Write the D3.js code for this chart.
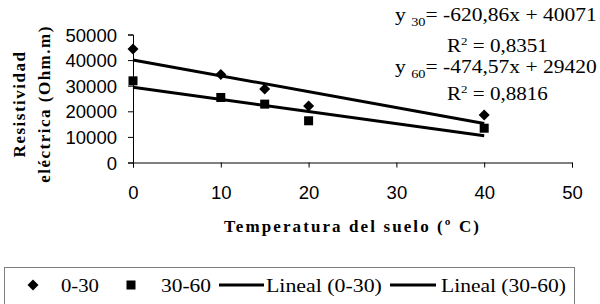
<!DOCTYPE html>
<html lang="es">
<head>
    <meta charset="UTF-8">
    <title>Resistividad</title>
    <script src="https://cdnjs.cloudflare.com/ajax/libs/d3/7.8.5/d3.min.js"></script>
    <style>
        body { margin: 0; background: #fff; }
        svg { display: block; }
    </style>
</head>
<body>
    <div id="chart"></div>
    <script>
        // data
        let temps = [0, 10, 15, 20, 40];
        let res030 = [44300, 34400, 28700, 22100, 18600];
        let res3060 = [31900, 25400, 22800, 16300, 13400];

        // regression lines (slope, intercept) from the equations
        let fit030 = [-620.86, 40071];
        let fit3060 = [-474.57, 29420];
        let fitRange = [0, 40];

        let xTicks = [0, 10, 20, 30, 40, 50];
        let yTicks = [0, 10000, 20000, 30000, 40000, 50000];

        let width = 600, height = 304;

        let svg = d3.select('#chart')
            .append('svg')
            .attr('width', width)
            .attr('height', height);

        let x = d3.scaleLinear().domain([0, 50]).range([133, 572]);
        let y = d3.scaleLinear().domain([0, 50000]).range([162.5, 34.5]);

        let serif = '"Liberation Serif", "Times New Roman", serif';
        let sans = '"Liberation Sans", Arial, sans-serif';

        // the figure's text is stretched sideways: scale x so it gets the same width
        function stretchTo(textSel, x0, y0, target) {
            let w = textSel.node().getComputedTextLength();
            textSel.attr('transform', 'translate(' + x0 + ',' + y0 + ') scale(' + (target / w) + ',1)');
        }

        //axes
        let xAxis = svg.append('g')
            .attr('transform', 'translate(0,' + y(0) + ')')
            .call(d3.axisBottom(x).tickValues(xTicks).tickSizeOuter(0).tickSize(5));
        let yAxis = svg.append('g')
            .attr('transform', 'translate(' + x(0) + ',0)')
            .call(d3.axisLeft(y).tickValues(yTicks).tickSizeOuter(0).tickSize(5).tickFormat(d3.format('d')).tickPadding(11));

        svg.selectAll('.tick text')
            .attr('font-family', sans)
            .attr('font-size', 18.5)
            .attr('fill', '#000');
        xAxis.selectAll('.tick text').attr('y', 36.5).attr('dy', 0);
        yAxis.selectAll('.tick text').attr('dy', '0.36em');
        svg.selectAll('.domain, .tick line').attr('stroke', '#000');

        //trend lines
        let line = d3.line().x(d => x(d[0])).y(d => y(d[1]));
        [fit030, fit3060].forEach(function (f) {
            svg.append('path')
                .attr('d', line(fitRange.map(t => [t, f[0] * t + f[1]])))
                .attr('stroke', '#000')
                .attr('stroke-width', 3)
                .attr('fill', 'none');
        });

        //markers
        let pts030 = temps.map((t, i) => [t, res030[i]]);
        let pts3060 = temps.map((t, i) => [t, res3060[i]]);

        svg.selectAll('.diamond')
            .data(pts030)
            .enter()
            .append('path')
            .attr('class', 'diamond')
            .attr('transform', d => 'translate(' + x(d[0]) + ',' + y(d[1]) + ')')
            .attr('d', 'M0,-5.5L5.5,0L0,5.5L-5.5,0Z')
            .attr('fill', '#000');

        svg.selectAll('.square')
            .data(pts3060)
            .enter()
            .append('rect')
            .attr('class', 'square')
            .attr('x', d => x(d[0]) - 4.5)
            .attr('y', d => y(d[1]) - 4.5)
            .attr('width', 9)
            .attr('height', 9)
            .attr('fill', '#000');

        //axis titles
        svg.append('text')
            .attr('x', (x(0) + x(50)) / 2)
            .attr('y', 232)
            .attr('text-anchor', 'middle')
            .attr('font-family', serif)
            .attr('font-weight', 'bold')
            .attr('font-size', 17)
            .attr('letter-spacing', 2.1)
            .text('Temperatura del suelo (º C)');

        let yTitle = svg.append('text')
            .attr('transform', 'translate(25,104) rotate(-90)')
            .attr('text-anchor', 'middle')
            .attr('font-family', serif)
            .attr('font-weight', 'bold')
            .attr('font-size', 17)
            .attr('letter-spacing', 1.5);
        yTitle.append('tspan').attr('x', 0).attr('y', 0).text('Resistividad');
        yTitle.append('tspan').attr('x', 0).attr('y', 25).text('eléctrica (Ohm.m)');

        //equations
        function equation(sub, eq, r2, yy, ry) {
            let t = svg.append('text')
                .attr('font-family', serif)
                .attr('font-size', 18);
            t.append('tspan').text('y ');
            t.append('tspan').attr('font-size', 12).attr('dy', 5).text(sub);
            t.append('tspan').attr('dy', -5).text('= ' + eq);
            stretchTo(t, 395, yy, 202);

            let r = svg.append('text')
                .attr('font-family', serif)
                .attr('font-size', 18);
            r.append('tspan').text('R');
            r.append('tspan').attr('font-size', 11).attr('dy', -7).text('2');
            r.append('tspan').attr('dy', 7).text(' = ' + r2);
            stretchTo(r, 447, ry, 101);
        }
        equation('30', '-620,86x + 40071', '0,8351', 21, 52);
        equation('60', '-474,57x + 29420', '0,8816', 73, 100);

        //legend
        svg.append('rect')
            .attr('x', 4.5)
            .attr('y', 267.5)
            .attr('width', 570)
            .attr('height', 40)
            .attr('fill', 'none')
            .attr('stroke', '#808080');

        let ly = 285;
        svg.append('path')
            .attr('transform', 'translate(33,' + ly + ')')
            .attr('d', 'M0,-5.5L5.5,0L0,5.5L-5.5,0Z')
            .attr('fill', '#000');
        svg.append('rect')
            .attr('x', 131 - 4.5).attr('y', ly - 4.5)
            .attr('width', 9).attr('height', 9)
            .attr('fill', '#000');
        [[219, 264], [390, 436]].forEach(function (s) {
            svg.append('line')
                .attr('x1', s[0]).attr('x2', s[1])
                .attr('y1', ly).attr('y2', ly)
                .attr('stroke', '#000')
                .attr('stroke-width', 3);
        });

        let legendLabels = ['0-30', '30-60', 'Lineal (0-30)', 'Lineal (30-60)'];
        let legendX = [61, 161, 266, 441];
        let legendW = [38, 50, 116, 125];
        legendLabels.forEach(function (l, i) {
            let t = svg.append('text')
                .attr('font-family', serif)
                .attr('font-size', 19)
                .text(l);
            stretchTo(t, legendX[i], 292, legendW[i]);
        });
    </script>
</body>
</html>
